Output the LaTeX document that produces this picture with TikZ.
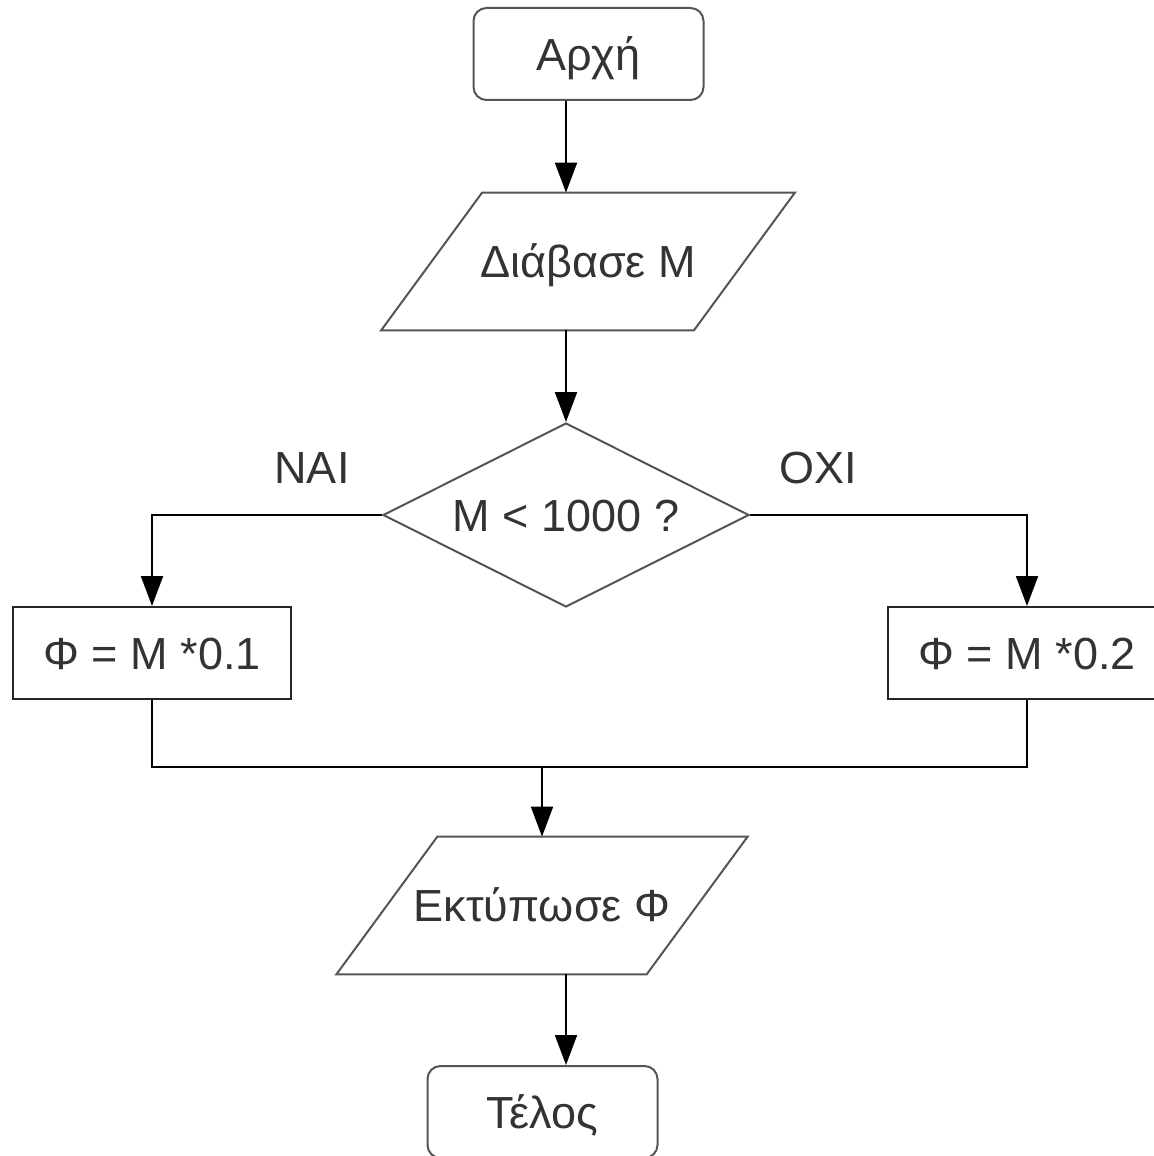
\documentclass[tikz,border=0pt]{standalone}
\usepackage{fontspec}
\setmainfont{Liberation Sans}
\usetikzlibrary{arrows.meta,shapes.geometric}
\definecolor{txtgray}{HTML}{333333}
\definecolor{edgegray}{HTML}{555555}

\begin{document}
\begin{tikzpicture}[
  x=0.5pt,y=-0.5pt,
  font=\fontsize{22.5}{26}\selectfont,text=txtgray,
  every node/.append style={text height=16.2pt,text depth=0pt},
  terminal/.style={draw=edgegray,line width=1pt,rounded corners=6.5pt,minimum width=115pt,minimum height=46pt},
  inout/.style={minimum height=68.5pt},
  process/.style={draw=black!85,line width=1pt,minimum width=139pt,minimum height=46pt},
  decision/.style={draw=edgegray,line width=1pt,diamond,aspect=2,inner sep=2pt,minimum width=183pt,minimum height=92pt},
  flow/.style={line width=1pt,-{Triangle[length=15pt,width=11pt]}}
]
  \useasboundingbox (0,0) rectangle (1153,1156);

  \node[terminal] (start) at (588.5,54) {Αρχή};
  \node[inout,minimum width=156pt] (read) at (588,261.5) {Διάβασε Μ};
  \node[decision] (test) at (566,515) {Μ < 1000 ?};
  \node (yes) at (312,467.5) {ΝΑΙ};
  \node (no) at (818,467.5) {ΟΧΙ};
  \node[process] (calc1) at (152,653) {Φ = Μ *0.1};
  \node[process] (calc2) at (1027,653) {Φ = Μ *0.2};
  \coordinate (merge) at (542,767);
  \node[inout,minimum width=154.75pt] (print) at (542,905.5) {Εκτύπωσε Φ};
  \node[terminal] (stop) at (542.5,1112) {Τέλος};

  % parallelograms for input / output
  \foreach \n in {read,print}
    \draw[edgegray,line width=1pt] ([xshift=25.25pt]\n.north west) -- ([xshift=25.25pt]\n.north east)
      -- ([xshift=-25.25pt]\n.south east) -- ([xshift=-25.25pt]\n.south west) -- cycle;

  \draw[flow] (start.south -| test.north) -- (read.north -| test.north);
  \draw[flow] (read.south -| test.north) -- (test.north);
  \draw[flow] (test.west) -| (calc1.north);
  \draw[flow] (test.east) -| (calc2.north);
  \draw[line width=1pt] (calc1.south) |- (merge) -| (calc2.south);
  \draw[flow] (merge) -- (print.north);
  \draw[flow] (print.south -| test.north) -- (stop.north -| test.north);
\end{tikzpicture}
\end{document}
